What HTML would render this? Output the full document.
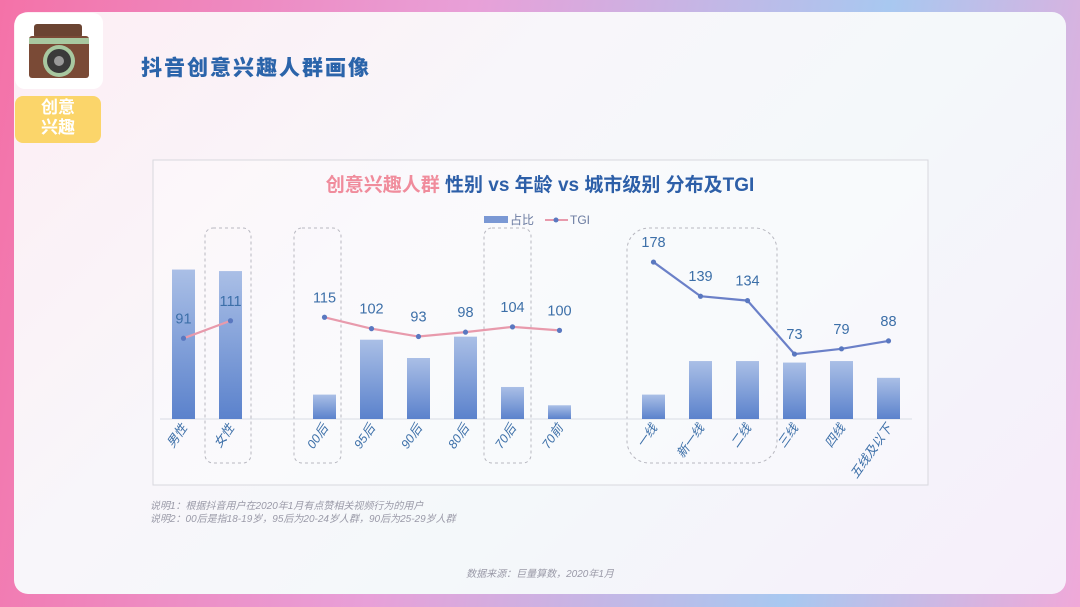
<!DOCTYPE html>
<html><head><meta charset="utf-8">
<style>
body{margin:0;width:1080px;height:607px;overflow:hidden;font-family:"Liberation Sans","Noto Sans CJK SC",sans-serif;
background:linear-gradient(100deg,#f472a8 0%,#e8a0d8 40%,#a8c8f0 75%,#f0a8d8 100%);position:relative}
.card{position:absolute;left:14px;top:12px;width:1052px;height:582px;border-radius:14px;
background:linear-gradient(135deg,#fdeef4 0%,#f8f6fa 35%,#f4f8fa 60%,#f6eefa 100%)}
</style></head><body>
<div class="card"></div>
<div style="position:absolute;left:15px;top:13px;width:88px;height:76px;background:#fff;border-radius:10px"></div>
<svg style="position:absolute;left:26px;top:20px" width="66" height="66" viewBox="0 0 66 66">
<rect x="8" y="4" width="48" height="14" rx="3" fill="#6b4432"/><rect x="3" y="16" width="60" height="42" rx="3" fill="#7a4a36"/>
<rect x="3" y="18" width="60" height="6" fill="#a8c8a0"/><circle cx="33" cy="41" r="16" fill="#a8c8a0"/><circle cx="33" cy="41" r="12" fill="#3a3a3a"/><circle cx="33" cy="41" r="5" fill="#999"/></svg>
<div style="position:absolute;left:15px;top:96px;width:86px;height:45px;background:#fbd56a;border-radius:8px;color:#fff;font-weight:bold;font-size:17px;line-height:20px;text-align:center;padding-top:2px">创意<br>兴趣</div>
<div style="position:absolute;left:141px;top:52px;font-size:21px;font-weight:900;color:#2b64aa;letter-spacing:2px">抖音创意兴趣人群画像</div>

<svg id="chart" style="position:absolute;left:0;top:0" width="1080" height="607">
<rect x="153" y="160" width="775" height="325" fill="rgba(255,255,255,0.35)" stroke="#d8d8de" stroke-width="1"/>
<text x="540" y="191" text-anchor="middle" font-size="19" font-weight="bold"><tspan fill="#f08c9c">创意兴趣人群 </tspan><tspan fill="#2d5fa8">性别 vs 年龄 vs 城市级别 分布及TGI</tspan></text>
<g>
<rect x="484" y="216" width="24" height="7" fill="#7a98d4"/>
<text x="510" y="224" font-size="12" fill="#6a7aa0">占比</text>
<line x1="545" y1="220" x2="568" y2="220" stroke="#e89aac" stroke-width="2"/><circle cx="556" cy="220" r="2.5" fill="#5a78c0"/>
<text x="570" y="224" font-size="12" fill="#6a7aa0">TGI</text>
</g>
<g fill="none" stroke="#b8b8c0" stroke-dasharray="3,3" stroke-width="1">
<rect x="205" y="228" width="46" height="235" rx="8"/><rect x="294" y="228" width="47" height="235" rx="8"/>
<rect x="484" y="228" width="47" height="235" rx="8"/><rect x="627" y="228" width="150" height="235" rx="22"/>
</g>
<line x1="160" y1="419" x2="912" y2="419" stroke="#d8dce4"/>
<defs><linearGradient id="bg" x1="0" y1="0" x2="0" y2="1"><stop offset="0" stop-color="#aabfe6"/><stop offset="1" stop-color="#5b82cc"/></linearGradient></defs>
<g id="bars"></g><g id="lines"></g><g id="labels"></g>
</svg>
<div style="position:absolute;left:150px;top:500px;font-size:10px;color:#9a9aa8;font-style:italic;line-height:13px">说明1：根据抖音用户在2020年1月有点赞相关视频行为的用户<br>说明2：00后是指18-19岁，95后为20-24岁人群，90后为25-29岁人群</div>
<div style="position:absolute;left:0;width:1080px;text-align:center;top:565px;font-size:10px;color:#9a9aa8;font-style:italic">数据来源：巨量算数，2020年1月</div>
<script>
const categories=["男性","女性","00后","95后","90后","80后","70后","70前","一线","新一线","二线","三线","四线","五线及以下"];
const slots=[0,1,3,4,5,6,7,8,10,11,12,13,14,15];
const shareValues=[49,48.5,8,26,20,27,10.5,4.5,8,19,19,18.5,19,13.5];
const tgiValues=[91,111,115,102,93,98,104,100,178,139,134,73,79,88];
const groups=[[0,1],[2,3,4,5,6,7],[8,9,10,11,12,13]];
const ns="http://www.w3.org/2000/svg";
const xPos=i=>183.5+47*slots[i];
const yShare=v=>419-v*3.05;
const yTgi=v=>418-v*0.876;
function mk(t,a,p){const e=document.createElementNS(ns,t);for(const k in a)e.setAttribute(k,a[k]);p.appendChild(e);return e;}
const B=document.getElementById('bars'),L=document.getElementById('lines'),T=document.getElementById('labels');
categories.forEach((c,i)=>{
 const r=mk('rect',{x:xPos(i)-11.5,y:yShare(shareValues[i]),width:23,height:419-yShare(shareValues[i]),fill:'url(#bg)'},B);
 
 
 const x=xPos(i),y=428;
 const t=mk('text',{x:x+4,y:y,'text-anchor':'end','font-size':12.5,fill:'#3c6fa8','font-style':'italic',transform:`rotate(-55 ${x+4} ${y})`},T);
 t.textContent=c;
 
 
});
groups.forEach((g,gi)=>{
 const col=gi==2?'#6b80c8':'#e89aac';
 const p=mk('polyline',{points:g.map(i=>xPos(i)+','+yTgi(tgiValues[i])).join(' '),fill:'none',stroke:col,'stroke-width':2.2},L);
 
 
 g.forEach(i=>{
  const c=mk('circle',{cx:xPos(i),cy:yTgi(tgiValues[i]),r:2.6,fill:'#5a78c0'},L);
  
  
  const t=mk('text',{x:xPos(i),y:yTgi(tgiValues[i])-15,'text-anchor':'middle','font-size':14.5,fill:'#3c6fa8'},T);
  t.textContent=tgiValues[i];
  
  
 });
});
</script>
</body></html>
